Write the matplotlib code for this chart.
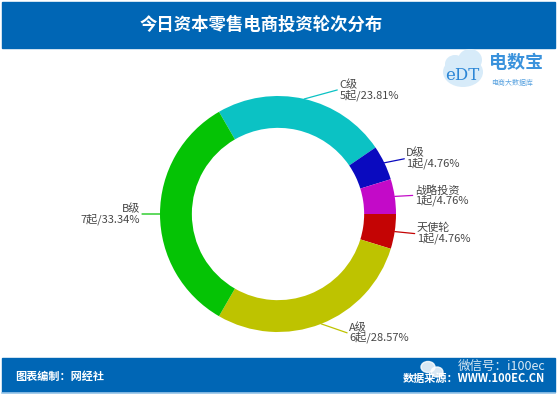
import matplotlib
matplotlib.use("Agg")
import matplotlib.pyplot as plt
from matplotlib.patches import Rectangle, Ellipse
import numpy as np

plt.rcParams['font.family'] = ['Noto Sans CJK SC', 'DejaVu Sans']

# ---- data ----
title = "今日资本零售电商投资轮次分布"
categories = ["C级", "D级", "战略投资", "天使轮", "A级", "B级"]
counts = [5, 1, 1, 1, 6, 7]
pct_labels = ["23.81%", "4.76%", "4.76%", "4.76%", "28.57%", "33.34%"]
colors = ["#0BC2C4", "#0A0ABF", "#C30AC8", "#C40404", "#BEC300", "#05C305"]
footer_left = "图表编制：网经社"
footer_right = "数据来源：WWW.100EC.CN"
watermark = "微信号：i100ec"

# ---- layout ----
W, H = 557, 395
fig = plt.figure(figsize=(W / 100, H / 100), dpi=100)
fig.patch.set_facecolor("white")

bg = fig.add_axes([0, 0, 1, 1])
bg.set_xlim(0, W)
bg.set_ylim(H, 0)
bg.axis("off")

blue = "#0066B5"
bg.add_patch(Rectangle((2, 2), W - 4, 46, color=blue, zorder=1))
bg.add_patch(Rectangle((2, 358), W - 4, 34, color=blue, zorder=1))
bg.plot([2, W - 2], [393, 393], color="#9CC8EA", lw=1.2, zorder=1)

bg.text(261, 25, title, color="white", fontsize=12.5, fontweight="bold",
        ha="center", va="center", zorder=3)
bg.text(15, 376, footer_left, color="white", fontsize=8, fontweight="bold",
        ha="left", va="center", zorder=3)
bg.text(545, 378, footer_right, color="white", fontsize=8, fontweight="bold",
        ha="right", va="center", zorder=3)
# watermark
bg.add_patch(Ellipse((428, 367), 14, 11, color="white", alpha=0.85, zorder=4))
bg.add_patch(Ellipse((437, 372), 12, 10, color="white", alpha=0.85, zorder=4))
bg.text(545, 366, watermark, color="white", fontsize=9, alpha=0.85,
        ha="right", va="center", zorder=4)

# logo
for (ex, ey, ew, eh) in [(463, 72, 40, 30), (470, 60, 24, 22), (455, 64, 20, 18)]:
    bg.add_patch(Ellipse((ex, ey), ew, eh, facecolor="#D7EBF9", edgecolor="none", zorder=2))
bg.text(462, 75, "eDT", color="#2C86D6", fontsize=12, family="DejaVu Serif",
        ha="center", va="center", zorder=3)
bg.text(489, 63, "电数宝", color="#3A92DC", fontsize=13, fontweight="bold",
        ha="left", va="center", zorder=3)
bg.text(491, 83, "电商大数据库", color="#5AA3E0", fontsize=5,
        ha="left", va="center", zorder=3)

# ---- donut ----
cx, cy, R = 278, 214, 118
ax = fig.add_axes([(cx - R) / W, (H - cy - R) / H, 2 * R / W, 2 * R / H])
wedges, _ = ax.pie(counts, colors=colors, startangle=120, counterclock=False,
                   radius=1, wedgeprops=dict(width=0.27, edgecolor="none"))
ax.set_xlim(-1, 1)
ax.set_ylim(-1, 1)
ax.axis("off")

# label leader offsets (pixels, y up)
offsets = [(33, 9), (20, 4), (18, 1), (20, -2), (26, -9), (-18, 0)]

for w, cat, n, p, c, (dx, dy) in zip(wedges, categories, counts, pct_labels, colors, offsets):
    th = np.deg2rad((w.theta1 + w.theta2) / 2)
    anchor = (np.cos(th), np.sin(th))
    ax.annotate("", xy=anchor, xytext=(dx, dy), textcoords="offset pixels",
                arrowprops=dict(arrowstyle="-", color=c, lw=0.9,
                                shrinkA=0, shrinkB=0), annotation_clip=False)
    ha = "left" if dx > 0 else "right"
    tx = dx + (2 if dx > 0 else -2)
    ax.annotate(f"{cat}\n{n}起/{p}", xy=anchor, xytext=(tx, dy),
                textcoords="offset pixels", ha=ha, va="center",
                multialignment=ha, fontsize=8, color="#474747",
                fontweight="medium", linespacing=0.9, annotation_clip=False)

fig.savefig("out.png", dpi=100)
